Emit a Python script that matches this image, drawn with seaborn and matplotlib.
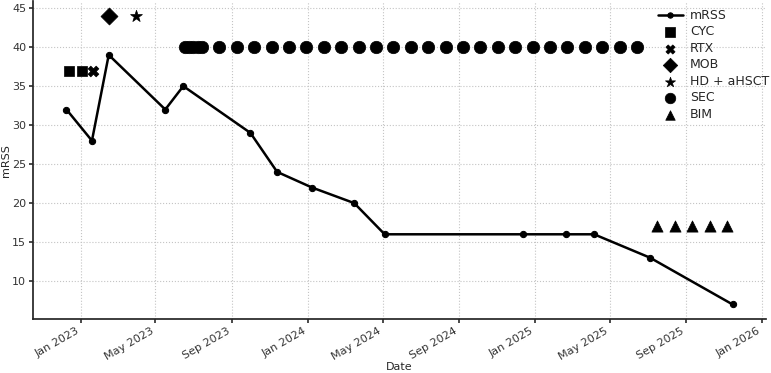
import matplotlib
matplotlib.use("Agg")
import matplotlib.pyplot as plt
import matplotlib.dates as mdates
import seaborn as sns
import pandas as pd

# mRSS measurements
mrss_dates = ["2022-12-09", "2023-01-19", "2023-02-15", "2023-05-17", "2023-06-15",
              "2023-10-01", "2023-11-13", "2024-01-08", "2024-03-16", "2024-05-04",
              "2024-12-13", "2025-02-19", "2025-04-06", "2025-07-05", "2025-11-15"]
mrss_values = [32, 28, 39, 32, 35, 29, 24, 22, 20, 16, 16, 16, 16, 13, 7]

# Treatments (date lists and display level)
cyc_dates = ["2022-12-13", "2023-01-03"]
cyc_level = 37
rtx_dates = ["2023-01-21"]
rtx_level = 37
mob_dates = ["2023-02-15"]
mob_level = 44
hd_dates = ["2023-03-31"]
hd_level = 44
sec_dates = ["2023-06-17", "2023-06-24", "2023-07-01", "2023-07-08", "2023-07-15",
             "2023-08-12", "2023-09-09", "2023-10-07", "2023-11-04", "2023-12-02",
             "2023-12-30", "2024-01-27", "2024-02-24", "2024-03-23", "2024-04-20",
             "2024-05-18", "2024-06-15", "2024-07-13", "2024-08-10", "2024-09-07",
             "2024-10-05", "2024-11-02", "2024-11-30", "2024-12-28", "2025-01-25",
             "2025-02-22", "2025-03-22", "2025-04-19", "2025-05-17", "2025-06-14"]
sec_level = 40
bim_dates = ["2025-07-17", "2025-08-14", "2025-09-11", "2025-10-09", "2025-11-06"]
bim_level = 17

sns.set_theme(style="ticks")
plt.rcParams['font.family'] = ['DejaVu Sans']

fig, ax = plt.subplots(figsize=(7.71, 3.73), dpi=100)
fig.subplots_adjust(left=0.043, right=0.9935, top=0.996, bottom=0.145)

df = pd.DataFrame({"Date": pd.to_datetime(mrss_dates), "mRSS": mrss_values})
sns.lineplot(data=df, x="Date", y="mRSS", ax=ax, color="black", linewidth=1.8,
             marker="o", markersize=4.5, markeredgecolor="black", label="mRSS")

treatments = [
    ("CYC", cyc_dates, cyc_level, "s", 60),
    ("RTX", rtx_dates, rtx_level, "X", 60),
    ("MOB", mob_dates, mob_level, "D", 75),
    ("HD + aHSCT", hd_dates, hd_level, "*", 80),
    ("SEC", sec_dates, sec_level, "o", 80),
    ("BIM", bim_dates, bim_level, "^", 65),
]
for name, dates, level, mk, size in treatments:
    tdf = pd.DataFrame({"Date": pd.to_datetime(dates), "y": [level] * len(dates)})
    sns.scatterplot(data=tdf, x="Date", y="y", ax=ax, marker=mk, s=size,
                    color="black", edgecolor="black", linewidth=0.5, label=name)

ax.xaxis.set_major_locator(mdates.MonthLocator(bymonth=(1, 5, 9)))
ax.xaxis.set_major_formatter(mdates.DateFormatter("%b %Y"))
for lbl in ax.get_xticklabels():
    lbl.set_rotation(30)
    lbl.set_ha("right")
ax.tick_params(labelsize=8, colors=".2", length=3, pad=2)
ax.set_xlabel("Date", fontsize=8, labelpad=0)
ax.set_ylabel("mRSS", fontsize=8, labelpad=1)
ax.grid(True, linestyle=":", color="#c4c4c4", linewidth=0.8)
sns.despine(ax=ax)

ax.legend(loc="upper right", bbox_to_anchor=(1.015, 1.0), frameon=False,
          fontsize=9, handletextpad=0.6, labelspacing=0.28, borderaxespad=0.2,
          markerscale=0.85)

fig.savefig("out.png", dpi=100)
